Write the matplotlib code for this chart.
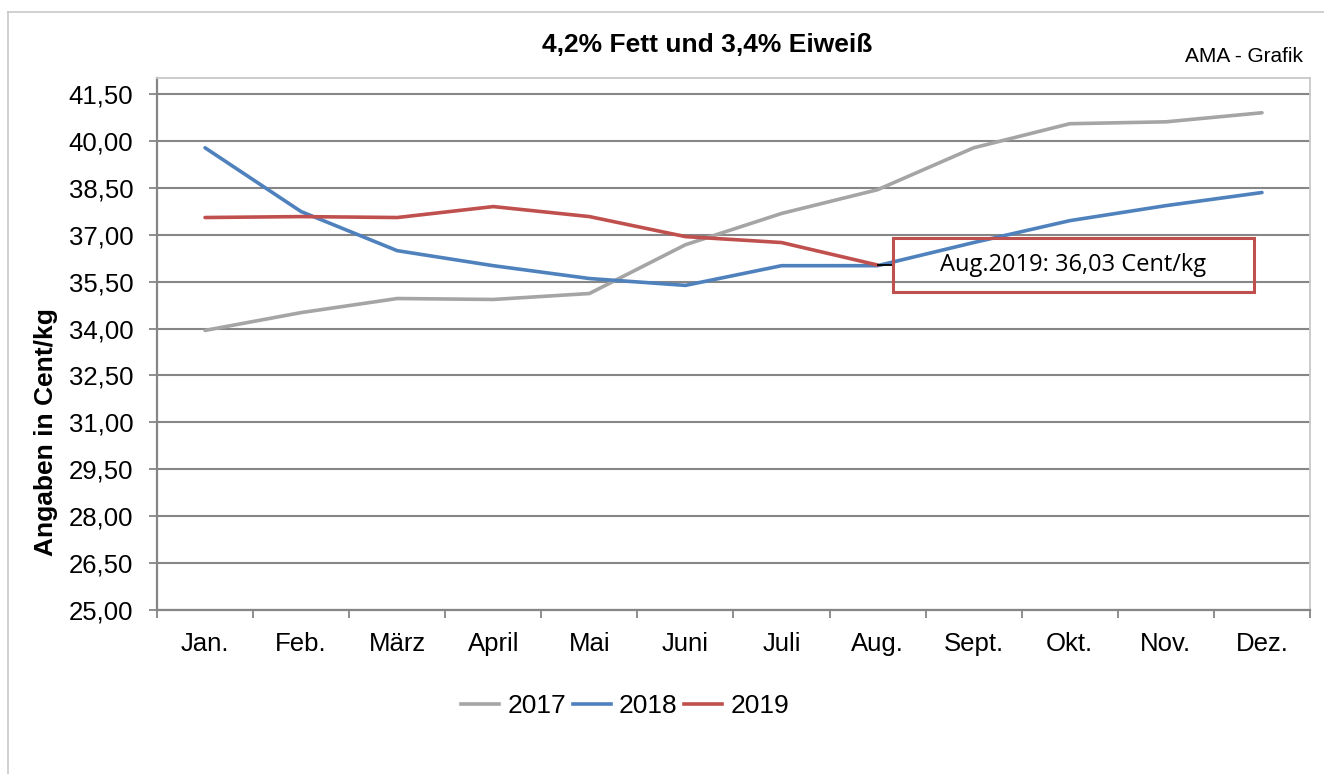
import numpy as np
import matplotlib
matplotlib.use('Agg')
import matplotlib.pyplot as plt
from matplotlib.patches import Rectangle
from matplotlib.lines import Line2D

# data (Cent/kg)
months = ['Jan.', 'Feb.', 'März', 'April', 'Mai', 'Juni', 'Juli', 'Aug.',
          'Sept.', 'Okt.', 'Nov.', 'Dez.']
price_2017 = [33.94, 34.51, 34.96, 34.93, 35.12, 36.68, 37.68, 38.44,
              39.78, 40.55, 40.61, 40.90]
price_2018 = [39.78, 37.74, 36.49, 36.01, 35.60, 35.38, 36.01, 36.01,
              36.75, 37.45, 37.93, 38.35]
price_2019 = [37.55, 37.58, 37.55, 37.90, 37.58, 36.94, 36.75, 36.03]
y_ticks = [25.00, 26.50, 28.00, 29.50, 31.00, 32.50, 34.00, 35.50,
           37.00, 38.50, 40.00, 41.50]
note_text = 'Aug.2019: 36,03 Cent/kg'

plt.rcParams['font.family'] = ['Liberation Sans', 'DejaVu Sans']

fig = plt.figure(figsize=(13.24, 7.74), dpi=100)
ax = fig.add_axes([157 / 1324, 1 - 610 / 774, (1310 - 157) / 1324, (610 - 78) / 774])

x = np.arange(len(months))
ax.plot(x, price_2017, color='#A5A5A5', lw=2.6, label='2017', solid_capstyle='round', zorder=3)
ax.plot(x, price_2018, color='#4F81BD', lw=2.6, label='2018', solid_capstyle='round', zorder=3)
ax.plot(x[:len(price_2019)], price_2019, color='#C0504D', lw=2.6, label='2019',
        solid_capstyle='round', zorder=3)

ax.set_xlim(-0.5, len(months) - 0.5)
ax.set_ylim(25.0, 41.5 + 16 / 31.27)
ax.set_yticks(y_ticks)
ax.set_yticklabels([f'{v:.2f}'.replace('.', ',') for v in y_ticks], fontsize=18.5)
ax.set_xticks(x)
ax.set_xticklabels(months, fontsize=18.5)
ax.set_xticks(np.arange(-0.5, len(months)), minor=True)
ax.tick_params(axis='x', which='major', length=0, pad=16)
ax.tick_params(axis='x', which='minor', length=6, width=1.3, color='#868686')
ax.tick_params(axis='y', length=6, width=1.3, color='#868686', pad=11)

ax.grid(axis='y', color='#868686', lw=1.5, zorder=1)
for s in ['top', 'right']:
    ax.spines[s].set_color('#C8C8C8')
    ax.spines[s].set_linewidth(1.3)
for s in ['left', 'bottom']:
    ax.spines[s].set_color('#868686')
    ax.spines[s].set_linewidth(1.6)

ax.set_ylabel('Angaben in Cent/kg', fontsize=19, fontweight='bold')
ax.yaxis.set_label_coords(-(157 - 58) / (1310 - 157), (610 - 432) / (610 - 78))

# annotation box for the latest value
aug = len(price_2019) - 1
ax.plot([aug, aug + 0.156], [price_2019[-1], price_2019[-1]], color='black', lw=1.3, zorder=4)
ax.add_patch(Rectangle((aug + 0.156, 35.18), 3.76, 1.72, fill=False,
                       edgecolor='#C0504D', lw=2.2, zorder=4))
ax.text(aug + 0.156 + 1.88, 36.04, note_text, ha='center', va='center',
        fontsize=17, family=['Open Sans', 'DejaVu Sans'], zorder=5)

fig.text(707 / 1324, 1 - 45 / 774, '4,2% Fett und 3,4% Eiweiß', ha='center',
         va='center', fontsize=19, fontweight='bold')
fig.text(1303 / 1324, 1 - 57 / 774, 'AMA - Grafik', ha='right', va='center', fontsize=15)

handles = [Line2D([], [], color=c, lw=2.6) for c in ['#A5A5A5', '#4F81BD', '#C0504D']]
fig.legend(handles, ['2017', '2018', '2019'], loc='center', ncol=3,
           bbox_to_anchor=(625 / 1324, 1 - 706 / 774), frameon=False, fontsize=19,
           handlelength=1.45, handletextpad=0.3, columnspacing=0.25)

# outer chart frame
fig.add_artist(Line2D([8 / 1324, 8 / 1324], [0, 1 - 12 / 774], color='#C8C8C8', lw=1.2,
                      transform=fig.transFigure))
fig.add_artist(Line2D([8 / 1324, 1], [1 - 12 / 774, 1 - 12 / 774], color='#C8C8C8', lw=1.2,
                      transform=fig.transFigure))

fig.savefig('out.png', dpi=100)
